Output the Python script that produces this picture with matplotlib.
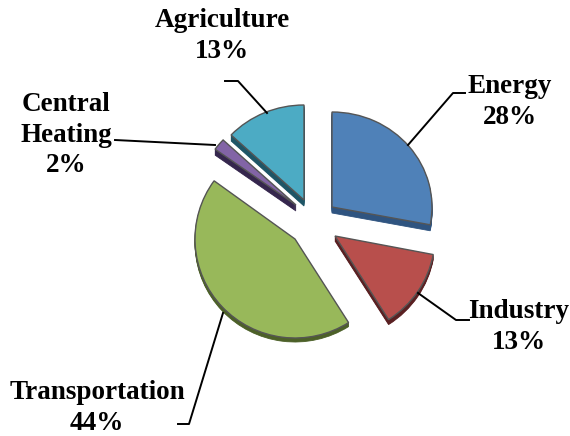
import matplotlib
matplotlib.use("Agg")
import matplotlib.pyplot as plt
from matplotlib.patches import Wedge
from matplotlib.transforms import Affine2D

categories = ["Energy", "Industry", "Transportation", "Central\nHeating", "Agriculture"]
shares = [28, 13, 44, 2, 13]
colors = ["#4f81b8", "#b84f4c", "#98b85a", "#8264a6", "#4cabc4"]
dark = ["#2f5480", "#5a2022", "#4c6028", "#35264d", "#1e5566"]

# where each exploded slice has its tip, in pixels
tips = [(332, 207), (335, 236), (295, 239), (296, 205), (304, 200)]
depths = [6, 5, 4, 6, 6]
# slices further back look a little flatter
heights = [95, 99, 99, 95, 95]

plt.rcParams["font.family"] = ["Liberation Serif"]

fig = plt.figure(figsize=(5.7, 4.36), dpi=100)
ax = fig.add_axes([0, 0, 1, 1])
ax.set_xlim(0, 570)
ax.set_ylim(436, 0)
ax.axis("off")

rx = 100
start = -90.0
total = sum(shares)
for i, s in enumerate(shares):
    a1 = start + 360.0 * s / total
    ox, oy = tips[i]
    ry = heights[i]
    # side of the slice first, then the top face over it
    for d in range(depths[i], 0, -1):
        tr = Affine2D().scale(rx, ry).translate(ox, oy + d) + ax.transData
        ax.add_patch(Wedge((0, 0), 1, start, a1, transform=tr, facecolor=dark[i], edgecolor=dark[i], lw=0.6, zorder=2))
    tr = Affine2D().scale(rx, ry).translate(ox, oy) + ax.transData
    ax.add_patch(Wedge((0, 0), 1, start, a1, transform=tr, facecolor=colors[i], edgecolor="#555555", lw=1.0, zorder=3))
    start = a1

labels = [f"{c}\n{s}%" for c, s in zip(categories, shares)]
label_pos = [(510, 102), (519, 327), (97, 408), (66, 135), (222, 36)]
for t, (x, y) in zip(labels, label_pos):
    ax.text(x, y, t, ha="center", va="center", fontsize=19.5, fontweight="bold", linespacing=1.27, color="black", zorder=5)

leaders = [
    ([408, 453, 465], [145, 93, 93]),
    ([418, 456, 469], [293, 320, 320]),
    ([223, 189, 178], [313, 424, 424]),
    ([215, 115], [145, 140]),
    ([267, 238, 225], [113, 81, 81]),
]
for xs, ys in leaders:
    ax.plot(xs, ys, color="black", lw=1.4, zorder=4)

fig.savefig("out.png", dpi=100)
